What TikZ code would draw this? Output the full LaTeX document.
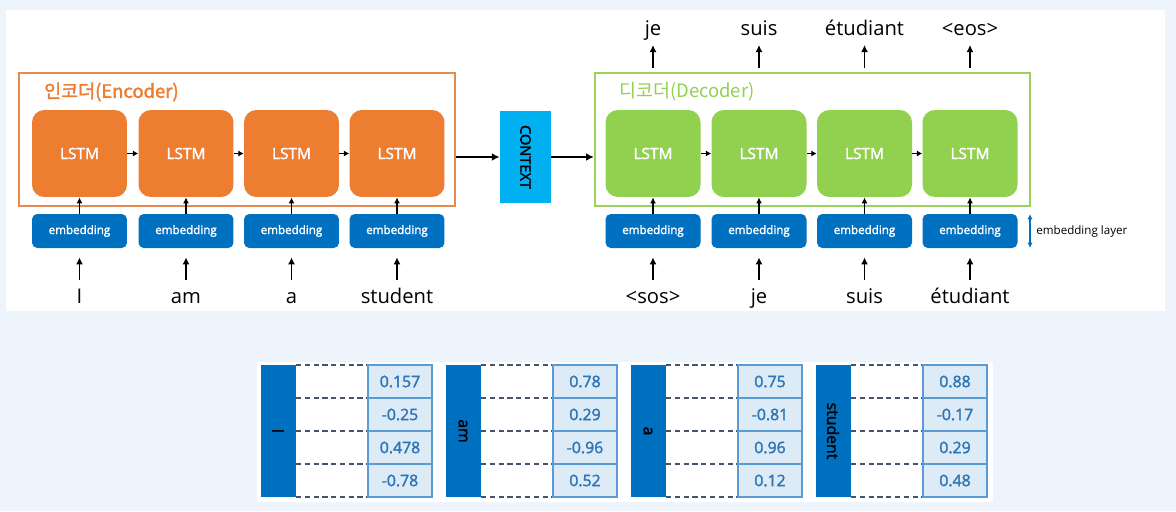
\documentclass[tikz,border=0pt]{standalone}
\usepackage{fontspec}
\setmainfont{Open Sans}[AutoFakeBold=2]
\newfontfamily\kofont[AutoFakeBold=2]{Noto Sans CJK KR}
\usetikzlibrary{arrows.meta,positioning}
\definecolor{pageBlue}{HTML}{EEF4FC}
\definecolor{encFill}{HTML}{ED7D31}
\definecolor{encLine}{HTML}{E88A4F}
\definecolor{decFill}{HTML}{92D050}
\definecolor{decLine}{HTML}{9BD35A}
\definecolor{embBlue}{HTML}{0070C0}
\definecolor{ctxBlue}{HTML}{00B0F0}
\definecolor{cellFill}{HTML}{DDEBF7}
\definecolor{cellLine}{HTML}{5B9BD5}
\definecolor{numBlue}{HTML}{2E75B6}
\definecolor{rowGrey}{HTML}{44546A}
\newcommand{\lstmFont}{\fontsize{8.8}{10}\selectfont\bfseries}
\newcommand{\wordFont}{\fontsize{11.5}{13}\selectfont}

\tikzset{
  enclstm/.style={fill=encFill, rounded corners=7pt, minimum width=1.9cm, minimum height=1.74cm,
    text=white, font=\lstmFont},
  declstm/.style={enclstm, fill=decFill},
  embbox/.style={fill=embBlue, rounded corners=3pt, minimum width=1.9cm, minimum height=0.68cm,
    text=white, font=\fontsize{6.6}{8}\selectfont\bfseries},
  word/.style={inner sep=0pt, text height=8.5pt, text depth=2.5pt, font=\wordFont},
  upin/.style={-{Latex[length=4pt,width=4pt]}, line width=1.1pt, shorten <=0.18cm, shorten >=0.18cm},
  upemb/.style={-{Latex[length=3.5pt,width=3.5pt]}, line width=0.9pt},
  sidearr/.style={-{Latex[length=3pt,width=3.5pt]}, line width=0.9pt},
  bigarr/.style={-{Latex[length=4.5pt,width=4.5pt]}, line width=1.3pt},
  tokbar/.style={fill=embBlue, rotate=-90, minimum width=2.64cm, minimum height=0.7cm,
    inner sep=0pt, font=\fontsize{9}{10}\selectfont\bfseries},
  valcell/.style={fill=cellFill, draw=cellLine, line width=0.7pt, minimum width=1.28cm,
    minimum height=0.66cm, inner sep=0pt, text=numBlue, font=\fontsize{9}{10}\selectfont\bfseries},
  rowline/.style={rowGrey, line width=0.6pt, dash pattern=on 3pt off 2pt}
}

\begin{document}
\begin{tikzpicture}[x=0.02cm, y=-0.02cm]
        \useasboundingbox[fill=pageBlue] (0, 0) rectangle (1176, 511);
        \fill[white] (6, 10) rectangle (1165, 311);
        \fill[white] (257, 362) rectangle (993, 502);

        % encoder / decoder frames
        \node[draw=encLine, line width=1.3pt, minimum width=8.72cm, minimum height=2.66cm] (encbox) at (237, 139.5) {};
        \node[draw=decLine, line width=1.3pt, minimum width=8.70cm, minimum height=2.66cm] (decbox) at (812.5, 139.5) {};
        \node[anchor=west, text=encFill, font=\kofont\bfseries\fontsize{10.5}{12}\selectfont] (enclabel) at (38, 92) {인코더(Encoder)};
        \node[anchor=west, text=decFill, font=\kofont\fontsize{10.5}{12}\selectfont] (declabel) at (613, 92) {디코더(Decoder)};

        \node[enclstm] (enc1) at (79.5, 153.5) {LSTM};
        \node[enclstm] (enc2) at (186, 153.5) {LSTM};
        \node[enclstm] (enc3) at (291.5, 153.5) {LSTM};
        \node[enclstm] (enc4) at (397, 153.5) {LSTM};

        \node[declstm] (dec1) at (653, 153.5) {LSTM};
        \node[declstm] (dec2) at (759, 153.5) {LSTM};
        \node[declstm] (dec3) at (864.5, 153.5) {LSTM};
        \node[declstm] (dec4) at (970, 153.5) {LSTM};

        \node[embbox] (encemb1) at (79.5, 231) {embedding};
        \node[embbox] (encemb2) at (186, 231) {embedding};
        \node[embbox] (encemb3) at (291.5, 231) {embedding};
        \node[embbox] (encemb4) at (397, 231) {embedding};

        \node[embbox] (decemb1) at (653, 231) {embedding};
        \node[embbox] (decemb2) at (759, 231) {embedding};
        \node[embbox] (decemb3) at (864.5, 231) {embedding};
        \node[embbox] (decemb4) at (970, 231) {embedding};

        \node[fill=ctxBlue, minimum width=1.02cm, minimum height=1.84cm, inner sep=0pt] (ctx) at (525.5, 157) {};
        \node[rotate=-90, font=\fontsize{8.3}{10}\selectfont\bfseries] (ctxtext) at (ctx.center) {CONTEXT};

        % input words
        \node[word] (encin1) at (79.5, 298.7) {I};
        \node[word] (encin2) at (186, 298.7) {am};
        \node[word] (encin3) at (291.5, 298.7) {a};
        \node[word] (encin4) at (397, 298.7) {student};

        \node[word] (decin1) at (653, 298.7) {\textless sos\textgreater};
        \node[word] (decin2) at (759, 298.7) {je};
        \node[word] (decin3) at (864.5, 298.7) {suis};
        \node[word] (decin4) at (970, 298.7) {étudiant};

        % output words
        \node[word] (decout1) at (653, 30) {je};
        \node[word] (decout2) at (759, 30) {suis};
        \node[word] (decout3) at (864.5, 30) {étudiant};
        \node[word] (decout4) at (970, 30) {\textless eos\textgreater};

        \draw[upin] (encin1) -- (encemb1);
        \draw[upin] (encin2) -- (encemb2);
        \draw[upin] (encin3) -- (encemb3);
        \draw[upin] (encin4) -- (encemb4);
        \draw[upin] (decin1) -- (decemb1);
        \draw[upin] (decin2) -- (decemb2);
        \draw[upin] (decin3) -- (decemb3);
        \draw[upin] (decin4) -- (decemb4);

        \draw[upemb] (encemb1) -- (enc1);
        \draw[upemb] (encemb2) -- (enc2);
        \draw[upemb] (encemb3) -- (enc3);
        \draw[upemb] (encemb4) -- (enc4);
        \draw[upemb] (decemb1) -- (dec1);
        \draw[upemb] (decemb2) -- (dec2);
        \draw[upemb] (decemb3) -- (dec3);
        \draw[upemb] (decemb4) -- (dec4);

        \draw[sidearr] (enc1) -- (enc2);
        \draw[sidearr] (enc2) -- (enc3);
        \draw[sidearr] (enc3) -- (enc4);
        \draw[sidearr] (dec1) -- (dec2);
        \draw[sidearr] (dec2) -- (dec3);
        \draw[sidearr] (dec3) -- (dec4);

        \draw[bigarr] (encbox.east |- ctx.west) -- (ctx.west);
        \draw[bigarr] (ctx.east) -- (decbox.west |- ctx.east);

        \draw[upin, shorten <=0.08cm, shorten >=0.1cm] (dec1.north |- decbox.north) -- (decout1);
        \draw[upin, shorten <=0.08cm, shorten >=0.1cm] (dec2.north |- decbox.north) -- (decout2);
        \draw[upin, shorten <=0.08cm, shorten >=0.1cm] (dec3.north |- decbox.north) -- (decout3);
        \draw[upin, shorten <=0.08cm, shorten >=0.1cm] (dec4.north |- decbox.north) -- (decout4);

        % embedding layer marker
        \coordinate (laytop) at (1030, 214);
        \coordinate (laybot) at (1030, 248);
        \draw[{Latex[length=3pt,width=3pt]}-{Latex[length=3pt,width=3pt]}, embBlue, line width=0.7pt] (laytop) -- (laybot);
        \node[anchor=west, inner sep=0pt, font=\fontsize{6.6}{8}\selectfont] (laytext) at (1036, 231) {embedding layer};

        % embedding vectors
        \node[tokbar] (bar1) at (278, 431) {I};
        \node[tokbar] (bar2) at (463, 431) {am};
        \node[tokbar] (bar3) at (648, 431) {a};
        \node[tokbar] (bar4) at (833, 431) {student};

        \draw[rowline] (296, 365) -- (368, 365) (296, 398) -- (368, 398) (296, 431) -- (368, 431) (296, 464) -- (368, 464) (296, 497) -- (368, 497);
        \draw[rowline] (481, 365) -- (553, 365) (481, 398) -- (553, 398) (481, 431) -- (553, 431) (481, 464) -- (553, 464) (481, 497) -- (553, 497);
        \draw[rowline] (666, 365) -- (738, 365) (666, 398) -- (738, 398) (666, 431) -- (738, 431) (666, 464) -- (738, 464) (666, 497) -- (738, 497);
        \draw[rowline] (851, 365) -- (923, 365) (851, 398) -- (923, 398) (851, 431) -- (923, 431) (851, 464) -- (923, 464) (851, 497) -- (923, 497);

        \node[valcell] (v11) at (400, 381.5) {0.157};
        \node[valcell] (v12) at (400, 414.5) {-0.25};
        \node[valcell] (v13) at (400, 447.5) {0.478};
        \node[valcell] (v14) at (400, 480.5) {-0.78};

        \node[valcell] (v21) at (585, 381.5) {0.78};
        \node[valcell] (v22) at (585, 414.5) {0.29};
        \node[valcell] (v23) at (585, 447.5) {-0.96};
        \node[valcell] (v24) at (585, 480.5) {0.52};

        \node[valcell] (v31) at (770, 381.5) {0.75};
        \node[valcell] (v32) at (770, 414.5) {-0.81};
        \node[valcell] (v33) at (770, 447.5) {0.96};
        \node[valcell] (v34) at (770, 480.5) {0.12};

        \node[valcell] (v41) at (955, 381.5) {0.88};
        \node[valcell] (v42) at (955, 414.5) {-0.17};
        \node[valcell] (v43) at (955, 447.5) {0.29};
        \node[valcell] (v44) at (955, 480.5) {0.48};

      \end{tikzpicture}
\end{document}
